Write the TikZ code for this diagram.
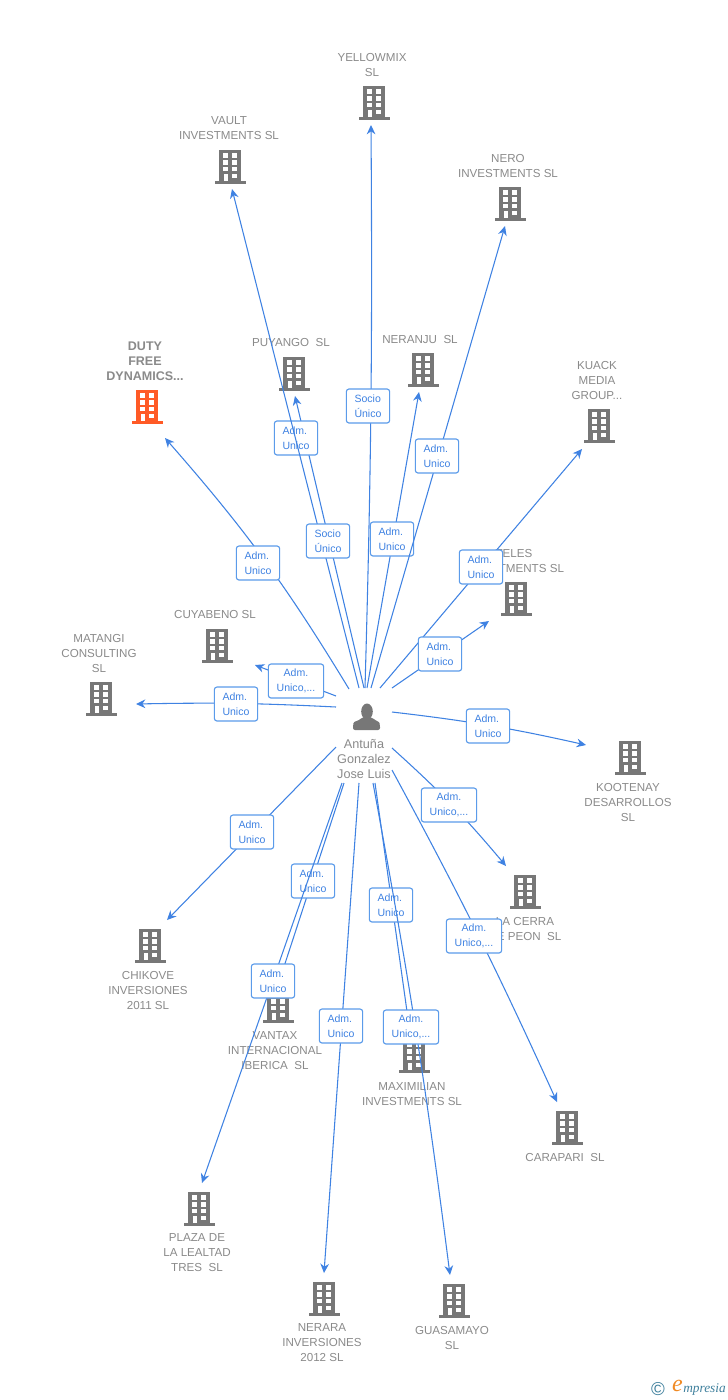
\documentclass[tikz,border=0pt]{standalone}
\usepackage{fontspec}
\setmainfont{Liberation Sans}
\newfontfamily\logofont{Liberation Serif}
\usetikzlibrary{arrows.meta}
\definecolor{linkblue}{HTML}{3F82E2}
\definecolor{boxblue}{HTML}{5B9BEA}
\definecolor{bldggray}{HTML}{777777}
\definecolor{namegray}{HTML}{8A8A8A}
\definecolor{dutyred}{HTML}{FF5A26}
\definecolor{logoblue}{HTML}{3E7F9C}
\definecolor{logoorange}{HTML}{F08A24}
\tikzset{
  pics/bldg/.style={code={
    \fill[pic actions] (-11,-17) rectangle (11,14);
    \fill[pic actions] (-15.5,14) rectangle (15.5,16.5);
    \foreach \wy/\wz in {-14/-9.5,-7/-2.5,0/4}{
      \fill[white] (-7,\wy) rectangle (-2.5,\wz);
      \fill[white] (2.3,\wy) rectangle (7,\wz);
    }
    \fill[white] (-6.5,6.5) rectangle (-2.5,14);
    \fill[white] (2.3,6.5) rectangle (7,11);
  }},
  compname/.style={text=namegray,font=\fontsize{8.7pt}{11.25pt}\selectfont,align=center,inner sep=0pt},
  linkline/.style={draw=linkblue,line width=0.8pt,-{Stealth[length=7pt,width=6.5pt]}},
  rolebox/.style={draw=boxblue,line width=0.85pt,rounded corners=2pt,fill=white,text=linkblue,
    font=\fontsize{7.9pt}{11.25pt}\selectfont,align=left,inner sep=0pt,
    minimum height=25.5pt,minimum width=32.5pt},
  rolewide/.style={rolebox,align=center,minimum width=41.5pt}
}
\begin{document}
\begin{tikzpicture}[x=0.75pt,y=-0.75pt]
\useasboundingbox (0,0) rectangle (728,1400);
% buildings and their names
\foreach \n/\bx/\by/\tx/\ty/\txt in {
  yellowmix/374/103/372/65/{YELLOWMIX\\SL},
  vault/230/167/229/128/{VAULT\\INVESTMENTS SL},
  nero/510/204/508/166/{NERO\\INVESTMENTS SL},
  puyango/294/374/291/342/{PUYANGO\ \ SL},
  neranju/423/370/420/339/{NERANJU\ \ SL},
  kuack/599/426/597/380/{KUACK\\MEDIA\\GROUP...},
  teles/516/599/514/561/{TELES\\INVESTMENTS SL},
  cuyabeno/217/646/215/614/{CUYABENO SL},
  matangi/101/699/99/653/{MATANGI\\CONSULTING\\SL},
  kootenay/630/758/628/802/{KOOTENAY\\DESARROLLOS\\SL},
  lacerra/525/892/525/929/{LA CERRA\\DE PEON\ \ SL},
  chikove/150/946/148/990/{CHIKOVE\\INVERSIONES\\2011 SL},
  vantax/278/1006/275/1051/{VANTAX\\INTERNACIONAL\\IBERICA\ \ SL},
  maximilian/414/1056/412/1094/{MAXIMILIAN\\INVESTMENTS SL},
  carapari/567/1128/565/1157/{CARAPARI\ \ SL},
  plaza/199/1209/197/1253/{PLAZA DE\\LA LEALTAD\\TRES\ \ SL},
  nerara/324/1299/322/1343/{NERARA\\INVERSIONES\\2012 SL},
  guasamayo/454/1301/452/1338/{GUASAMAYO\\SL}}{
  \pic[fill=bldggray] (b\n) at (\bx,\by) {bldg};
  \node[compname] (t\n) at (\tx,\ty) {\txt};
}
\pic[fill=dutyred] (bduty) at (147,407) {bldg};
\node[compname,font=\fontsize{9.4pt}{11.25pt}\selectfont\bfseries] (tduty) at (145,361) {DUTY\\FREE\\DYNAMICS...};
% the person
\coordinate (hub) at (367,711.5);
\fill[bldggray] (hub) ellipse (5.8 and 8);
\fill[bldggray,rounded corners=1.5pt] (353,730) -- (353,725) .. controls (354,721) and (359,721) .. (362,717) -- (372,717) .. controls (375,721) and (379,721) .. (380,725) -- (380,730) -- cycle;
\node[text=namegray,font=\fontsize{9.5pt}{11.25pt}\selectfont,align=center,inner sep=0pt] (thub) at (364,759) {Antuña\\Gonzalez\\Jose Luis};
% links, each with its box
\foreach \n/\sx/\sy/\lx/\ly/\ex/\ey/\bb/\st/\txt in {
  duty/349/689/258/563/165/438/-5/rolebox/{Adm.\\Unico},
  puyango/364/688/296/438/295/396/0/rolebox/{Adm.\\Unico},
  vault/359/688/328/541/232/189/0/rolebox/{Socio\\Único},
  yellowmix/365/688/368/406/371/125/-1/rolebox/{Socio\\Único},
  neranju/367/688/392/539/419/392/0/rolebox/{Adm.\\Unico},
  nero/371/688/437/456/505/226/0/rolebox/{Adm.\\Unico},
  kuack/380/688/481/567/582/449/0/rolebox/{Adm.\\Unico},
  teles/392/688/440/654/489/621/0/rolebox/{Adm.\\Unico},
  cuyabeno/336/696/296/681/255/665/0/rolewide/{Adm.\\Unico,...},
  matangi/336/707/236/704/136/704/-2/rolebox/{Adm.\\Unico},
  kootenay/392/712/488/726/586/745/3/rolebox/{Adm.\\Unico},
  lacerra/392/748/449/805/506/866/4/rolewide/{Adm.\\Unico,...},
  carapari/392/770/474/936/557/1102/2/rolewide/{Adm.\\Unico,...},
  chikove/336/747/252/832/167/920/0/rolebox/{Adm.\\Unico},
  vantax/344/783/313/881/278/985/0/rolebox/{Adm.\\Unico},
  plaza/342/783/273/981/202/1183/0/rolebox/{Adm.\\Unico},
  nerara/359/783/341/1026/324/1273/0/rolebox/{Adm.\\Unico},
  maximilian/375/783/391/905/411/1040/0/rolebox/{Adm.\\Unico},
  guasamayo/373/783/411/1027/450/1275/1.6/rolewide/{Adm.\\Unico,...}}{
  \coordinate (s\n) at (\sx,\sy);
  \coordinate (e\n) at (\ex,\ey);
  \draw[linkline] (s\n) to[bend left=\bb] (e\n);
  \node[\st] (l\n) at (\lx,\ly) {\txt};
}
% corner mark
\node[text=logoblue,font=\fontsize{14pt}{14pt}\selectfont,inner sep=0pt] (copymark) at (658,1389) {©};
\node[text=logoorange,font=\logofont\itshape\fontsize{18pt}{18pt}\selectfont,inner sep=0pt] (logoe) at (677.5,1386) {e};
\node[text=logoblue,font=\logofont\itshape\fontsize{10pt}{10pt}\selectfont,inner sep=0pt,anchor=west] (logotext) at (683,1389) {mpresia};
\end{tikzpicture}
\end{document}
